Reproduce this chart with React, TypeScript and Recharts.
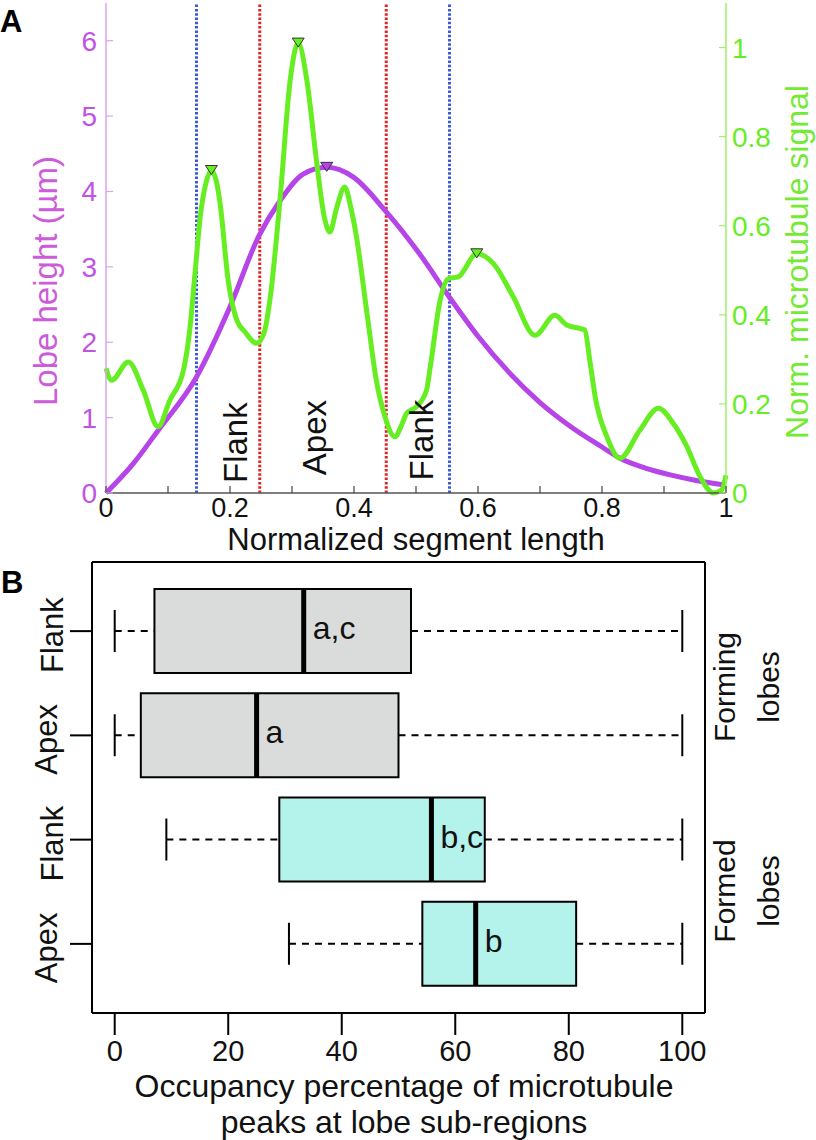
import React from 'react';
import {
  ComposedChart,
  BarChart,
  Bar,
  Line,
  XAxis,
  YAxis,
  ReferenceLine,
  ReferenceDot,
} from 'recharts';

const FONT = '"Liberation Sans", Arial, Helvetica, sans-serif';

// ---- panel A: lobe height profile (left axis, µm)
const lobeX = [0, 0.044, 0.084, 0.146, 0.2, 0.246, 0.281, 0.318, 0.356, 0.399, 0.45, 0.506, 0.552, 0.6, 0.65, 0.7, 0.748, 0.8, 0.829, 0.87, 0.91, 0.95, 0.995];
const lobeHeight = [0, 0.39, 0.83, 1.54, 2.47, 3.4, 3.88, 4.23, 4.32, 4.19, 3.75, 3.17, 2.62, 2.08, 1.6, 1.2, 0.89, 0.61, 0.46, 0.33, 0.24, 0.17, 0.11];

// ---- panel A: normalised microtubule signal (right axis)
const signalX = [
  0, 0.009, 0.036, 0.06, 0.084, 0.103, 0.125, 0.135, 0.144, 0.152, 0.162, 0.17, 0.178, 0.184,
  0.197, 0.211, 0.224, 0.243, 0.255, 0.265, 0.281, 0.297, 0.31, 0.324, 0.34, 0.352, 0.361,
  0.372, 0.385, 0.395, 0.404, 0.421, 0.436, 0.45, 0.466, 0.476, 0.485, 0.501, 0.517, 0.523,
  0.539, 0.552, 0.568, 0.598, 0.625, 0.657, 0.692, 0.724, 0.743, 0.765, 0.772, 0.781, 0.789,
  0.808, 0.829, 0.861, 0.891, 0.915, 0.937, 0.958, 0.98, 0.993, 1,
];
const signalLevel = [
  0.28, 0.253, 0.294, 0.231, 0.149, 0.208, 0.276, 0.365, 0.5, 0.62, 0.7, 0.724, 0.7, 0.65,
  0.478, 0.388, 0.362, 0.336, 0.36, 0.44, 0.664, 0.926, 1.01, 0.926, 0.74, 0.62, 0.586,
  0.64, 0.687, 0.64, 0.575, 0.403, 0.253, 0.171, 0.126, 0.15, 0.179, 0.194, 0.231, 0.283,
  0.433, 0.481, 0.485, 0.537, 0.515, 0.44, 0.354, 0.399, 0.377, 0.369, 0.366, 0.291, 0.216,
  0.126, 0.078, 0.141, 0.19, 0.156, 0.104, 0.037, 0.0, 0.007, 0.04,
];

const signalPeakX = [0.17, 0.31, 0.598];
const lobePeakX = 0.356;

const boundaryX = [0.146, 0.248, 0.452, 0.554];
const boundaryKind = ['outer', 'inner', 'inner', 'outer'];

const regionNames = ['Flank', 'Apex', 'Flank'];
const regionX = [0.227, 0.355, 0.527];
const regionY = [0.668, 0.735, 0.702];

const xTicksA = [0, 0.1, 0.2, 0.3, 0.4, 0.5, 0.6, 0.7, 0.8, 0.9, 1];
const heightTicks = [0, 1, 2, 3, 4, 5, 6];
const signalTicks = [0, 0.2, 0.4, 0.6, 0.8, 1];

// ---- panel B: occupancy box plots
const boxIds = ['formingFlank', 'formingApex', 'formedFlank', 'formedApex'];
const boxNames = ['Flank', 'Apex', 'Flank', 'Apex'];
const boxGroup = ['forming', 'forming', 'formed', 'formed'];
const whiskerLow = [0, 0, 9.1, 30.7];
const quart1 = [7.0, 4.6, 29.0, 54.2];
const medians = [33.3, 25.0, 55.8, 63.6];
const quart3 = [52.2, 50.0, 65.2, 81.3];
const whiskerHigh = [100, 100, 100, 100];
const groupLetters = ['a,c', 'a', 'b,c', 'b'];
const xTicksB = [0, 20, 40, 60, 80, 100];

const PURPLE = '#b545e8';
const GREEN = '#66ee22';
const BLUE = '#3a58d8';
const RED = '#e02424';
const GROUP_FILL: Record<string, string> = { forming: '#d9dcdb', formed: '#b4f2ec' };

const lobeData = lobeX.map((x, i) => ({ x, h: lobeHeight[i] }));
const signalData = signalX.map((x, i) => ({ x, s: signalLevel[i] }));
const nameById: Record<string, string> = {};
boxIds.forEach((id, i) => (nameById[id] = boxNames[i]));
const boxData = boxIds.map((id, i) => ({
  id,
  range: [whiskerLow[i], whiskerHigh[i]],
  lo: whiskerLow[i],
  q1: quart1[i],
  med: medians[i],
  q3: quart3[i],
  hi: whiskerHigh[i],
  note: groupLetters[i],
  group: boxGroup[i],
}));

const hasDescender = (s: string) => /[gjpqy]/.test(s);

// rotated (bottom-to-top) text whose baseline sits on x = bx
function VText({ bx, cy, size, fill = '#111', children }: any) {
  return (
    <text
      x={bx}
      y={cy}
      transform={`rotate(-90 ${bx} ${cy})`}
      textAnchor="middle"
      fontSize={size}
      fontFamily={FONT}
      fill={fill}
    >
      {children}
    </text>
  );
}

const fmtA = (v: number) => (v === 0 || v === 1 ? String(v) : v.toFixed(1));

const BottomTickA = ({ x, y, payload }: any) => {
  const v = payload.value;
  const show = Math.round(v * 10) % 2 === 0;
  return (
    <g>
      <line x1={x} x2={x} y1={y} y2={y - 7} stroke="#444" strokeWidth={1.2} />
      {show && (
        <text x={x} y={y + 24} textAnchor="middle" fontSize={27} fontFamily={FONT} fill="#111">
          {fmtA(v)}
        </text>
      )}
    </g>
  );
};

const TopTickA = ({ x, y }: any) => (
  <line x1={x} x2={x} y1={y} y2={y + 7} stroke="#444" strokeWidth={1.2} />
);

const LeftTickA = ({ x, y, payload }: any) => (
  <g>
    <line x1={x} x2={x + 7} y1={y} y2={y} stroke="#d9a6ec" strokeWidth={1.2} />
    <text x={x - 9} y={y + 10} textAnchor="end" fontSize={28} fontFamily={FONT} fill="#c152e6">
      {payload.value}
    </text>
  </g>
);

const RightTickA = ({ x, y, payload }: any) => (
  <g>
    <line x1={x} x2={x - 7} y1={y} y2={y} stroke="#9ef06b" strokeWidth={1.2} />
    <text x={x + 6} y={y + 10} textAnchor="start" fontSize={28} fontFamily={FONT} fill={GREEN}>
      {payload.value === 0 || payload.value === 1 ? String(payload.value) : payload.value.toFixed(1)}
    </text>
  </g>
);

const peakMarker = (fill: string) => (p: any) => (
  <polygon
    points={`${p.cx - 6},${p.cy - 5} ${p.cx + 6},${p.cy - 5} ${p.cx},${p.cy + 4}`}
    fill={fill}
    stroke="#333"
    strokeWidth={1}
  />
);

const regionLabel = (name: string) => (p: any) => (
  <VText bx={p.cx} cy={p.cy} size={33}>
    {name}
  </VText>
);

function PanelA() {
  return (
    <ComposedChart width={816} height={560} margin={{ top: 3, right: 30, bottom: 17, left: 46 }}>
      <XAxis
        type="number"
        dataKey="x"
        domain={[0, 1]}
        ticks={xTicksA}
        interval={0}
        tickSize={0}
        tickMargin={0}
        tickLine={false}
        tick={BottomTickA}
        axisLine={{ stroke: '#555', strokeWidth: 1.5 }}
        height={50}
        label={() => (
          <text x={416} y={550} textAnchor="middle" fontSize={31} fontFamily={FONT} fill="#111">
            Normalized segment length
          </text>
        )}
      />
      <XAxis
        xAxisId="top"
        orientation="top"
        type="number"
        dataKey="x"
        domain={[0, 1]}
        ticks={xTicksA}
        interval={0}
        tickSize={0}
        tickMargin={0}
        tickLine={false}
        tick={TopTickA}
        axisLine={{ stroke: '#777', strokeWidth: 1.5 }}
        height={0}
      />
      <YAxis
        yAxisId="left"
        type="number"
        domain={[0, 6.5]}
        ticks={heightTicks}
        interval={0}
        tickSize={0}
        tickMargin={0}
        tickLine={false}
        tick={LeftTickA}
        axisLine={{ stroke: '#d9a6ec', strokeWidth: 1.5 }}
        width={60}
        label={() => (
          <g>
            <text x={0} y={32} fontSize={31} fontWeight="bold" fontFamily={FONT} fill="#000">
              A
            </text>
            <VText bx={57} cy={281} size={33} fill="#cc5cd9">
              Lobe height (µm)
            </VText>
          </g>
        )}
      />
      <YAxis
        yAxisId="right"
        orientation="right"
        type="number"
        domain={[0, 1.1]}
        ticks={signalTicks}
        interval={0}
        tickSize={0}
        tickMargin={0}
        tickLine={false}
        tick={RightTickA}
        axisLine={{ stroke: '#9ef06b', strokeWidth: 1.5 }}
        width={60}
        label={() => (
          <VText bx={808} cy={262} size={32} fill="#74ea34">
            Norm. microtubule signal
          </VText>
        )}
      />
      {boundaryX.map((x, i) => (
        <ReferenceLine
          key={`b-${i}`}
          x={x}
          yAxisId="left"
          stroke={boundaryKind[i] === 'outer' ? BLUE : RED}
          strokeWidth={3}
          strokeDasharray="2.5 1.8"
        />
      ))}
      <Line
        yAxisId="left"
        data={lobeData}
        dataKey="h"
        type="monotone"
        stroke={PURPLE}
        strokeWidth={5}
        dot={false}
        isAnimationActive={false}
      />
      <Line
        yAxisId="right"
        data={signalData}
        dataKey="s"
        type="monotone"
        stroke={GREEN}
        strokeWidth={5}
        dot={false}
        isAnimationActive={false}
      />
      {signalPeakX.map((x) => (
        <ReferenceDot
          key={`sp-${x}`}
          x={x}
          y={signalLevel[signalX.indexOf(x)]}
          yAxisId="right"
          ifOverflow="visible"
          shape={peakMarker(GREEN)}
        />
      ))}
      <ReferenceDot
        x={lobePeakX}
        y={lobeHeight[lobeX.indexOf(lobePeakX)]}
        yAxisId="left"
        ifOverflow="visible"
        shape={peakMarker(PURPLE)}
      />
      {regionNames.map((name, i) => (
        <ReferenceDot
          key={`r-${i}`}
          x={regionX[i]}
          y={regionY[i]}
          yAxisId="left"
          ifOverflow="visible"
          shape={regionLabel(name)}
        />
      ))}
    </ComposedChart>
  );
}

// ---- panel B helpers
const BoxShape = (props: any) => {
  const { x, y, width, height, payload } = props;
  const { lo, hi, q1, med, q3, note, group } = payload;
  const px = (v: number) => x + ((v - lo) / (hi - lo)) * width;
  const cy = y + height / 2;
  const cap = height * 0.25;
  return (
    <g>
      <line x1={px(lo)} x2={px(q1)} y1={cy} y2={cy} stroke="#000" strokeWidth={2} strokeDasharray="7 6" />
      <line x1={px(q3)} x2={px(hi)} y1={cy} y2={cy} stroke="#000" strokeWidth={2} strokeDasharray="7 6" />
      <line x1={px(lo)} x2={px(lo)} y1={cy - cap} y2={cy + cap} stroke="#000" strokeWidth={2} />
      <line x1={px(hi)} x2={px(hi)} y1={cy - cap} y2={cy + cap} stroke="#000" strokeWidth={2} />
      <rect
        x={px(q1)}
        y={y}
        width={px(q3) - px(q1)}
        height={height}
        fill={GROUP_FILL[group]}
        stroke="#000"
        strokeWidth={2}
      />
      <line x1={px(med)} x2={px(med)} y1={y} y2={y + height} stroke="#000" strokeWidth={5} />
      <text x={px(med) + 9} y={cy + 8} fontSize={32} fontFamily={FONT} fill="#111">
        {note}
      </text>
    </g>
  );
};

const BottomTickB = ({ x, y, payload }: any) => (
  <g>
    <line x1={x} x2={x} y1={y} y2={y + 22} stroke="#000" strokeWidth={2} />
    <text x={x} y={y + 48} textAnchor="middle" fontSize={29} fontFamily={FONT} fill="#111">
      {payload.value}
    </text>
  </g>
);

const LeftTickB = ({ x, y, payload }: any) => {
  const name = nameById[payload.value];
  return (
    <g>
      <line x1={x - 22} x2={x} y1={y} y2={y} stroke="#000" strokeWidth={2} />
      <VText bx={x - 29 - (hasDescender(name) ? 6 : 0)} cy={y + 4} size={31}>
        {name}
      </VText>
    </g>
  );
};

function PanelB() {
  return (
    <BarChart
      layout="vertical"
      width={816}
      height={600}
      data={boxData}
      margin={{ top: 21, right: 110, bottom: 67, left: 32 }}
    >
      <XAxis
        type="number"
        domain={[-4, 104]}
        ticks={xTicksB}
        interval={0}
        tickSize={0}
        tickMargin={0}
        tickLine={false}
        tick={BottomTickB}
        axisLine={{ stroke: '#000', strokeWidth: 2 }}
        height={60}
        label={() => (
          <g>
            <text x={404} y={557} textAnchor="middle" fontSize={32} fontFamily={FONT} fill="#111">
              Occupancy percentage of microtubule
            </text>
            <text x={404} y={593} textAnchor="middle" fontSize={32} fontFamily={FONT} fill="#111">
              peaks at lobe sub-regions
            </text>
          </g>
        )}
      />
      <XAxis
        xAxisId="top"
        orientation="top"
        type="number"
        domain={[-4, 104]}
        tick={false}
        tickLine={false}
        axisLine={{ stroke: '#000', strokeWidth: 2 }}
        height={1}
      />
      <YAxis
        type="category"
        dataKey="id"
        width={60}
        padding={{ top: 17, bottom: 17 }}
        interval={0}
        tickSize={0}
        tickMargin={0}
        tickLine={false}
        tick={LeftTickB}
        axisLine={{ stroke: '#000', strokeWidth: 2 }}
        label={() => (
          <text x={1} y={53} fontSize={31} fontWeight="bold" fontFamily={FONT} fill="#000">
            B
          </text>
        )}
      />
      <YAxis
        yAxisId="right"
        orientation="right"
        type="category"
        dataKey="id"
        width={1}
        padding={{ top: 17, bottom: 17 }}
        tick={false}
        tickLine={false}
        axisLine={{ stroke: '#000', strokeWidth: 2 }}
        label={() => (
          <g>
            <VText bx={735} cy={147} size={30}>Forming</VText>
            <VText bx={779} cy={147} size={30}>lobes</VText>
            <VText bx={735} cy={351} size={30}>Formed</VText>
            <VText bx={779} cy={351} size={30}>lobes</VText>
          </g>
        )}
      />
      <Bar dataKey="range" barSize={84} shape={BoxShape} isAnimationActive={false} />
    </BarChart>
  );
}

export default function App() {
  return (
    <div
      style={{
        position: 'absolute',
        left: 0,
        top: 0,
        width: 816,
        height: 1140,
        background: '#fff',
        fontFamily: FONT,
      }}
    >
      <div style={{ position: 'absolute', left: 0, top: 0 }}>
        <PanelA />
      </div>
      <div style={{ position: 'absolute', left: 0, top: 540 }}>
        <PanelB />
      </div>
    </div>
  );
}
